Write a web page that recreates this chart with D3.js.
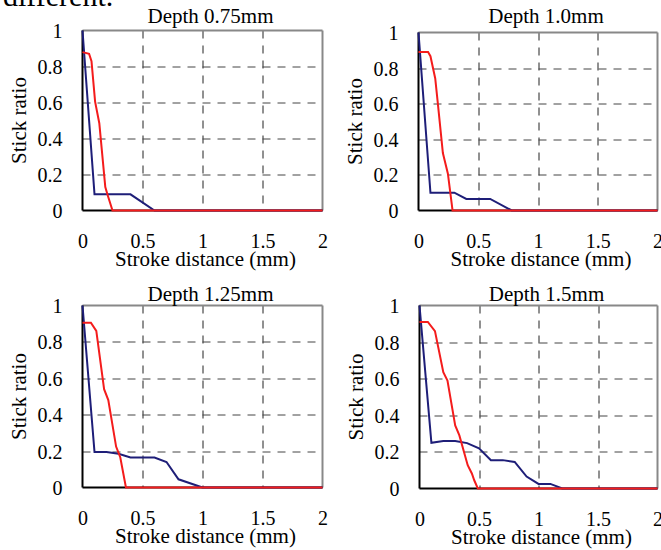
<!DOCTYPE html>
<html>
<head>
<meta charset="utf-8">
<script src="https://cdn.jsdelivr.net/npm/d3@7"></script>
<style>
  body { margin: 0; background: #fff; }
  svg { display: block; }
</style>
</head>
<body>
<div id="container"></div>
<script>
// chart data: [stroke distance mm, stick ratio]
var titles = ["Depth 0.75mm", "Depth 1.0mm", "Depth 1.25mm", "Depth 1.5mm"];
var xTicks = [0, 0.5, 1, 1.5, 2];
var yTicks = [0, 0.2, 0.4, 0.6, 0.8, 1];

var blue075 = [[0,1],[0.1,0.09],[0.4,0.09],[0.6,0],[2,0]];
var red075  = [[0,0.88],[0.055,0.87],[0.075,0.83],[0.105,0.605],[0.14,0.485],[0.19,0.13],[0.21,0.085],[0.25,0],[2,0]];

var blue100 = [[0,1],[0.1,0.1],[0.3,0.1],[0.4,0.065],[0.6,0.065],[0.78,0],[2,0]];
var red100  = [[0,0.89],[0.08,0.89],[0.1,0.867],[0.14,0.742],[0.162,0.6],[0.204,0.323],[0.246,0.207],[0.285,0],[2,0]];

var blue125 = [[0,1],[0.1,0.195],[0.2,0.195],[0.3,0.185],[0.4,0.165],[0.6,0.165],[0.7,0.14],[0.8,0.045],[1,0],[2,0]];
var red125  = [[0,0.905],[0.07,0.905],[0.115,0.86],[0.18,0.54],[0.215,0.48],[0.28,0.225],[0.315,0.165],[0.362,0],[2,0]];

var blue150 = [[0,1],[0.1,0.25],[0.2,0.26],[0.3,0.26],[0.4,0.248],[0.5,0.22],[0.6,0.155],[0.7,0.155],[0.8,0.145],[0.9,0.065],[1,0.025],[1.1,0.025],[1.2,0],[2,0]];
var red150  = [[0,0.91],[0.07,0.91],[0.13,0.86],[0.2,0.636],[0.235,0.59],[0.3,0.345],[0.335,0.29],[0.405,0.127],[0.44,0.082],[0.46,0.045],[0.49,0],[2,0]];

var blueSets = [blue075, blue100, blue125, blue150];
var redSets  = [red075, red100, red125, red150];

var serif = "'Times New Roman', 'Liberation Serif', serif";

// panel boxes in page pixels
var boxes = [
  {left: 82.5,  right: 322.5, top: 30.5,  bottom: 210.5},
  {left: 418.5, right: 657.5, top: 32.5,  bottom: 210.5},
  {left: 82.5,  right: 322.5, top: 305.5, bottom: 487.5},
  {left: 419.5, right: 657.5, top: 305.5, bottom: 488.5}
];
var titleY = [22.5, 22.5, 300.5, 300.5];

var svg = d3.select("#container")
  .append("svg")
  .attr("width", 661)
  .attr("height", 550)
  .attr("font-family", serif);

// scrap of the paper text above the figure
svg.append("text")
  .attr("x", 3)
  .attr("y", 6)
  .attr("font-size", "30px")
  .text("different.");

boxes.forEach(function(b, i) {
  var w = b.right - b.left, h = b.bottom - b.top;

  var x = d3.scaleLinear().domain([0, 2]).range([0, w]);
  var y = d3.scaleLinear().domain([0, 1]).range([h, 0]);

  var g = svg.append("g")
    .attr("transform", "translate(" + b.left + "," + b.top + ")");

  // dashed grid
  g.append("g")
    .selectAll("line")
    .data(xTicks.filter(function(d) { return d > 0 && d < 2; }))
    .enter().append("line")
    .attr("x1", function(d) { return Math.round(x(d)) + 0.5; })
    .attr("x2", function(d) { return Math.round(x(d)) + 0.5; })
    .attr("y1", 0)
    .attr("y2", h)
    .attr("stroke", "#222")
    .attr("stroke-dasharray", "8,7");

  g.append("g")
    .selectAll("line")
    .data(yTicks.filter(function(d) { return d > 0 && d < 1; }))
    .enter().append("line")
    .attr("x1", 0)
    .attr("x2", w)
    .attr("y1", function(d) { return Math.round(y(d)) + 0.5; })
    .attr("y2", function(d) { return Math.round(y(d)) + 0.5; })
    .attr("stroke", "#444")
    .attr("stroke-dasharray", "8,7");

  // frame: grey top/right, black left/bottom
  g.append("line").attr("x1", 0).attr("x2", w).attr("y1", 0).attr("y2", 0)
    .attr("stroke", "#888").attr("stroke-width", 2);
  g.append("line").attr("x1", w).attr("x2", w).attr("y1", 0).attr("y2", h)
    .attr("stroke", "#888").attr("stroke-width", 2);
  g.append("line").attr("x1", 0).attr("x2", 0).attr("y1", 0).attr("y2", h)
    .attr("stroke", "#000").attr("stroke-width", 2);
  g.append("line").attr("x1", 0).attr("x2", w).attr("y1", h).attr("y2", h)
    .attr("stroke", "#000").attr("stroke-width", 2);

  // tick labels through axes, without lines
  var ya = g.append("g")
    .attr("transform", "translate(-20,0)")
    .call(d3.axisLeft(y).tickValues(yTicks).tickSize(0).tickPadding(0)
      .tickFormat(function(d) { return d === 0 || d === 1 ? d : d3.format(".1f")(d); }));
  ya.attr("font-family", serif).attr("font-size", 20);
  ya.select(".domain").remove();
  ya.selectAll("text").attr("fill", "#000").attr("dy", "0.35em");

  var xa = g.append("g")
    .attr("transform", "translate(0," + h + ")")
    .call(d3.axisBottom(x).tickValues(xTicks).tickSize(0).tickPadding(0)
      .tickFormat(function(d) { return d; }));
  xa.attr("font-family", serif).attr("font-size", 20);
  xa.select(".domain").remove();
  xa.selectAll("text").attr("fill", "#000").attr("dy", null).attr("y", 37.5);

  // series
  var line = d3.line()
    .x(function(d) { return x(d[0]); })
    .y(function(d) { return y(d[1]); });

  g.append("path")
    .datum(blueSets[i])
    .attr("d", line)
    .attr("fill", "none")
    .attr("stroke", "#1e1e78")
    .attr("stroke-width", 2);

  g.append("path")
    .datum(redSets[i])
    .attr("d", line)
    .attr("fill", "none")
    .attr("stroke", "#f41c1c")
    .attr("stroke-width", 2);

  // title and axis titles
  svg.append("text")
    .attr("x", (b.left + b.right) / 2 + 8)
    .attr("y", titleY[i])
    .attr("text-anchor", "middle")
    .attr("font-size", "21px")
    .text(titles[i]);

  g.append("text")
    .attr("x", w / 2 + 3)
    .attr("y", h + 55.5)
    .attr("text-anchor", "middle")
    .attr("font-size", "21px")
    .text("Stroke distance (mm)");

  g.append("text")
    .attr("transform", "translate(" + (-56.5) + "," + (h / 2) + ") rotate(-90)")
    .attr("text-anchor", "middle")
    .attr("font-size", "21px")
    .text("Stick ratio");
});
</script>
</body>
</html>
